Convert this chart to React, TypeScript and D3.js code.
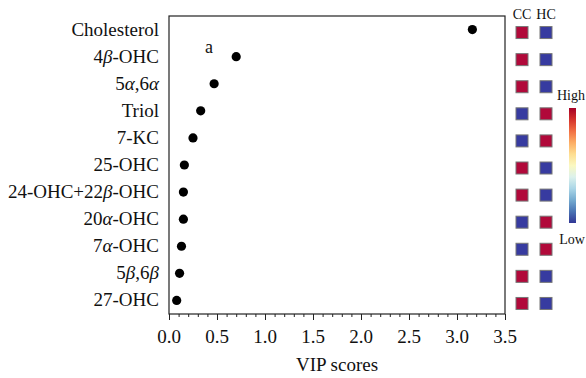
import React, { useRef, useEffect } from "react";
import * as d3 from "d3";

const compounds = [
  "Cholesterol",
  "4β-OHC",
  "5α,6α",
  "Triol",
  "7-KC",
  "25-OHC",
  "24-OHC+22β-OHC",
  "20α-OHC",
  "7α-OHC",
  "5β,6β",
  "27-OHC",
];
// label pieces: [text, italic]
const labelParts: [string, boolean][][] = [
  [["Cholesterol", false]],
  [["4", false], ["β", true], ["-OHC", false]],
  [["5", false], ["α", true], [",6", false], ["α", true]],
  [["Triol", false]],
  [["7-KC", false]],
  [["25-OHC", false]],
  [["24-OHC+22", false], ["β", true], ["-OHC", false]],
  [["20", false], ["α", true], ["-OHC", false]],
  [["7", false], ["α", true], ["-OHC", false]],
  [["5", false], ["β", true], [",6", false], ["β", true]],
  [["27-OHC", false]],
];
const vipScores = [3.16, 0.7, 0.47, 0.33, 0.25, 0.16, 0.15, 0.15, 0.13, 0.11, 0.08];
const groups = ["CC", "HC"];
// 1 = high, 0 = low
const ccLevel = [1, 1, 1, 0, 0, 1, 1, 0, 0, 1, 1];
const hcLevel = [0, 0, 0, 1, 1, 0, 0, 1, 1, 0, 0];
const xTicks = [0, 0.5, 1, 1.5, 2, 2.5, 3, 3.5];

const W = 586;
const H = 378;
const left = 169, right = 505, top = 16, bottom = 314;
const font = "'Liberation Serif', 'Times New Roman', serif";

export default function App() {
  const svgRef = useRef<SVGSVGElement>(null);

  useEffect(() => {
    const svg = d3.select(svgRef.current);
    svg.selectAll("*").remove();

    const x = d3.scaleLinear().domain([0, 3.5]).range([left, right]);
    const y = d3.scaleBand().domain(compounds).range([top, bottom]);

    // x axis with minor ticks
    const xAxis = d3
      .axisBottom(x)
      .tickValues(d3.range(0, 3.5001, 0.1))
      .tickSize(3)
      .tickFormat(() => "");
    const gx = svg.append("g").attr("transform", `translate(0,${bottom})`).call(xAxis);
    gx.select(".domain").remove();
    gx.selectAll("line").attr("stroke", "#222");
    gx.selectAll(".tick line")
      .filter((d: any) => xTicks.some((t) => Math.abs(t - d) < 1e-6))
      .attr("y2", 6);

    svg
      .append("g")
      .selectAll("text")
      .data(xTicks)
      .join("text")
      .attr("x", (d) => x(d))
      .attr("y", bottom + 29)
      .attr("text-anchor", "middle")
      .attr("font-family", font)
      .attr("font-size", 19)
      .attr("fill", "#111")
      .text((d) => d.toFixed(1));

    // frame
    svg
      .append("rect")
      .attr("x", left)
      .attr("y", top)
      .attr("width", right - left)
      .attr("height", bottom - top)
      .attr("fill", "none")
      .attr("stroke", "#222")
      .attr("stroke-width", 1.2);

    // labels
    const lab = svg
      .append("g")
      .selectAll("text")
      .data(compounds)
      .join("text")
      .attr("x", left - 10)
      .attr("y", (d) => (y(d) as number) + y.bandwidth() / 2 + 6)
      .attr("text-anchor", "end")
      .attr("font-family", font)
      .attr("font-size", 19)
      .attr("fill", "#111");
    lab.each(function (_d, i) {
      const t = d3.select(this);
      labelParts[i].forEach(([s, it]) => {
        t.append("tspan").attr("font-style", it ? "italic" : "normal").text(s);
      });
    });

    // dots
    svg
      .append("g")
      .selectAll("circle")
      .data(compounds)
      .join("circle")
      .attr("cx", (_d, i) => x(vipScores[i]))
      .attr("cy", (d) => (y(d) as number) + y.bandwidth() / 2)
      .attr("r", 4.6)
      .attr("fill", "#000");

    svg
      .append("text")
      .attr("x", 205)
      .attr("y", 53)
      .attr("font-family", font)
      .attr("font-size", 18)
      .attr("fill", "#111")
      .text("a");

    svg
      .append("text")
      .attr("x", (left + right) / 2)
      .attr("y", 371)
      .attr("text-anchor", "middle")
      .attr("font-family", font)
      .attr("font-size", 19)
      .attr("fill", "#111")
      .text("VIP scores");

    // heatmap
    const hx = d3.scaleBand().domain(groups).range([510, 558]);
    const color = (v: number) => (v ? "#b1093a" : "#373ba0");
    const levels = [ccLevel, hcLevel];
    groups.forEach((g, gi) => {
      svg
        .append("text")
        .attr("x", (hx(g) as number) + hx.bandwidth() / 2)
        .attr("y", 19)
        .attr("text-anchor", "middle")
        .attr("font-family", font)
        .attr("font-size", 14)
        .attr("fill", "#111")
        .text(g);
      svg
        .append("g")
        .selectAll("rect")
        .data(compounds)
        .join("rect")
        .attr("x", (hx(g) as number) + hx.bandwidth() / 2 - 6)
        .attr("y", (d) => (y(d) as number) + y.bandwidth() / 2 - 3)
        .attr("width", 12)
        .attr("height", 12)
        .attr("fill", (_d, i) => color(levels[gi][i]))
        .attr("stroke", "#777")
        .attr("stroke-width", 1);
    });

    // colour bar
    const defs = svg.append("defs");
    const grad = defs
      .append("linearGradient")
      .attr("id", "cbar")
      .attr("x1", 0)
      .attr("y1", 0)
      .attr("x2", 0)
      .attr("y2", 1);
    d3.range(0, 1.0001, 0.1).forEach((t) => {
      grad.append("stop").attr("offset", t).attr("stop-color", d3.interpolateRdYlBu(t));
    });
    svg
      .append("rect")
      .attr("x", 569)
      .attr("y", 108)
      .attr("width", 7)
      .attr("height", 115)
      .attr("fill", "url(#cbar)");
    svg
      .append("text")
      .attr("x", 571)
      .attr("y", 100)
      .attr("text-anchor", "middle")
      .attr("font-family", font)
      .attr("font-size", 14)
      .attr("fill", "#111")
      .text("High");
    svg
      .append("text")
      .attr("x", 572)
      .attr("y", 244)
      .attr("text-anchor", "middle")
      .attr("font-family", font)
      .attr("font-size", 14)
      .attr("fill", "#111")
      .text("Low");
  }, []);

  return (
    <svg
      ref={svgRef}
      width={W}
      height={H}
      style={{ position: "absolute", left: 0, top: 0, background: "#fff" }}
    />
  );
}
